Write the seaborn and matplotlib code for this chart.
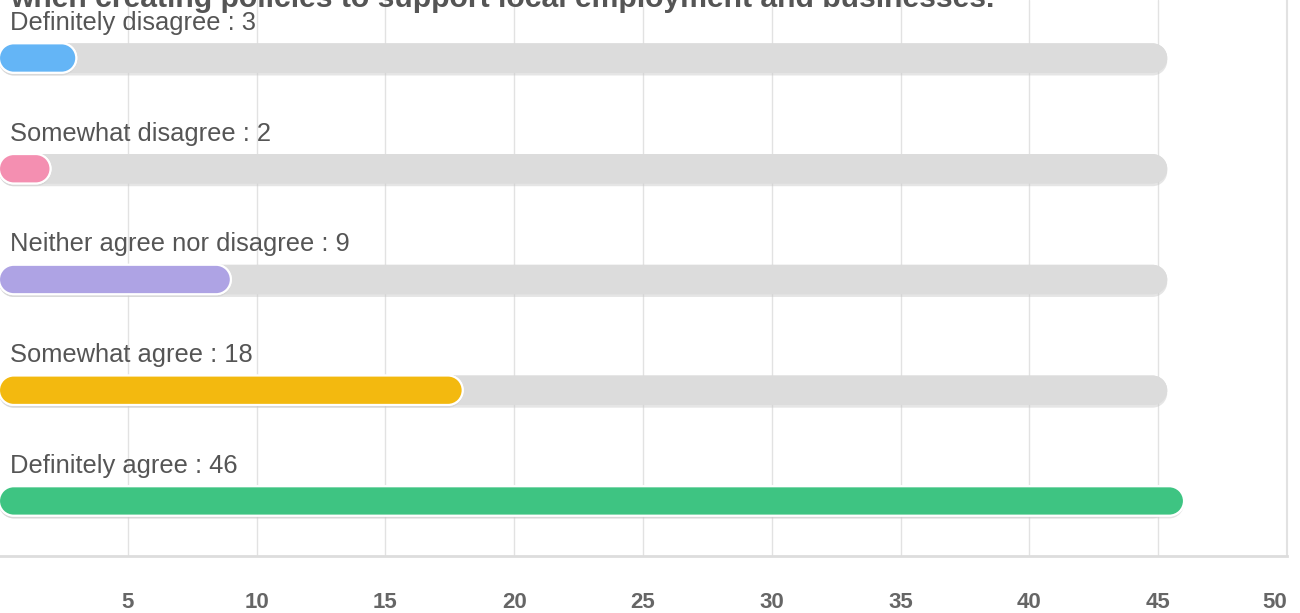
import matplotlib
matplotlib.use('Agg')
import matplotlib.pyplot as plt
import matplotlib.patheffects as pe
from matplotlib.patches import PathPatch
from matplotlib.path import Path
import numpy as np
import pandas as pd
import seaborn as sns

title = 'when creating policies to support local employment and businesses.'
answers = ['Definitely disagree', 'Somewhat disagree', 'Neither agree nor disagree',
           'Somewhat agree', 'Definitely agree']
counts = [3, 2, 9, 18, 46]
track = [45.35, 45.35, 45.35, 45.35, 45.35]
colors = ['#64b5f6', '#f48fb1', '#aea3e4', '#f3b90f', '#3ec482']
ticks = [5, 10, 15, 20, 25, 30, 35, 40, 45, 50]

df = pd.DataFrame({'answer': answers, 'count': counts, 'track': track})

sns.set_theme(style='white')
plt.rcParams['font.family'] = ['Liberation Sans', 'DejaVu Sans']

W, H = 1300, 613
fig = plt.figure(figsize=(W / 100, H / 100), dpi=100)
ax = fig.add_axes([-1 / W, 57 / H, 1288 / W, 556 / H])

bar_h = 0.265
sns.barplot(data=df, x='track', y='answer', color='#dcdcdc', width=bar_h,
            saturation=1, ax=ax)
sns.barplot(data=df, x='count', y='answer', hue='answer', palette=colors,
            width=bar_h, saturation=1, legend=False, ax=ax)

ax.set_xlim(0, 50)
ax.set_ylim(4.497, -0.524)

# data units per pixel, to keep the end caps circular
ux = 50 / 1288
uy = 5.021 / 556


def pill(x, y, w, h):
    ry = h / 2
    rx = ry * ux / uy
    rx = min(rx, w / 2)
    yc = y + h / 2
    right = Path.arc(-90, 90)
    left = Path.arc(90, 270)
    rv = right.vertices * [rx, ry] + [x + w - rx, yc]
    lv = left.vertices * [rx, ry] + [x + rx, yc]
    verts = np.vstack([rv, lv, rv[:1]])
    codes = ([Path.MOVETO] + list(right.codes[1:]) + [Path.LINETO] +
             list(left.codes[1:]) + [Path.CLOSEPOLY])
    return Path(verts, codes)


shadow = [pe.withSimplePatchShadow(offset=(0, -2), shadow_rgbFace='#cccccc', alpha=0.5),
          pe.Normal()]
old = list(ax.patches)
for i, p in enumerate(old):
    is_track = i < len(answers)
    path = pill(p.get_x(), p.get_y(), p.get_width(), p.get_height())
    pp = PathPatch(path, facecolor=p.get_facecolor(),
                   edgecolor='none' if is_track else 'white',
                   linewidth=0 if is_track else 1.5,
                   zorder=2 if is_track else 3)
    pp.set_path_effects(shadow)
    p.remove()
    ax.add_patch(pp)

for i, (a, c) in enumerate(zip(answers, counts)):
    ax.text(0.43, i - 0.253, f'{a} : {c}', fontsize=18.4, color='#555555',
            va='baseline', ha='left', zorder=4)

ax.set_xticks(ticks)
ax.set_xticklabels([str(t) for t in ticks], fontsize=16, fontweight='bold',
                   color='#666666')
ax.get_xticklabels()[-1].set_horizontalalignment('right')
ax.tick_params(axis='x', length=0, pad=26)
ax.set_yticks([])
ax.set_xlabel('')
ax.set_ylabel('')

ax.grid(axis='x', color='#e2e2e2', linewidth=1)
ax.set_axisbelow(True)
for s in ['top', 'left']:
    ax.spines[s].set_visible(False)
ax.spines['bottom'].set_color('#dddddd')
ax.spines['bottom'].set_linewidth(2)
ax.spines['right'].set_color('#e2e2e2')
ax.spines['right'].set_linewidth(1.5)

fig.text(10 / W, 1 - 7 / H, title, fontsize=21.7, fontweight='bold',
         color='#555555', va='baseline', ha='left')

fig.savefig('out.png', dpi=100)
